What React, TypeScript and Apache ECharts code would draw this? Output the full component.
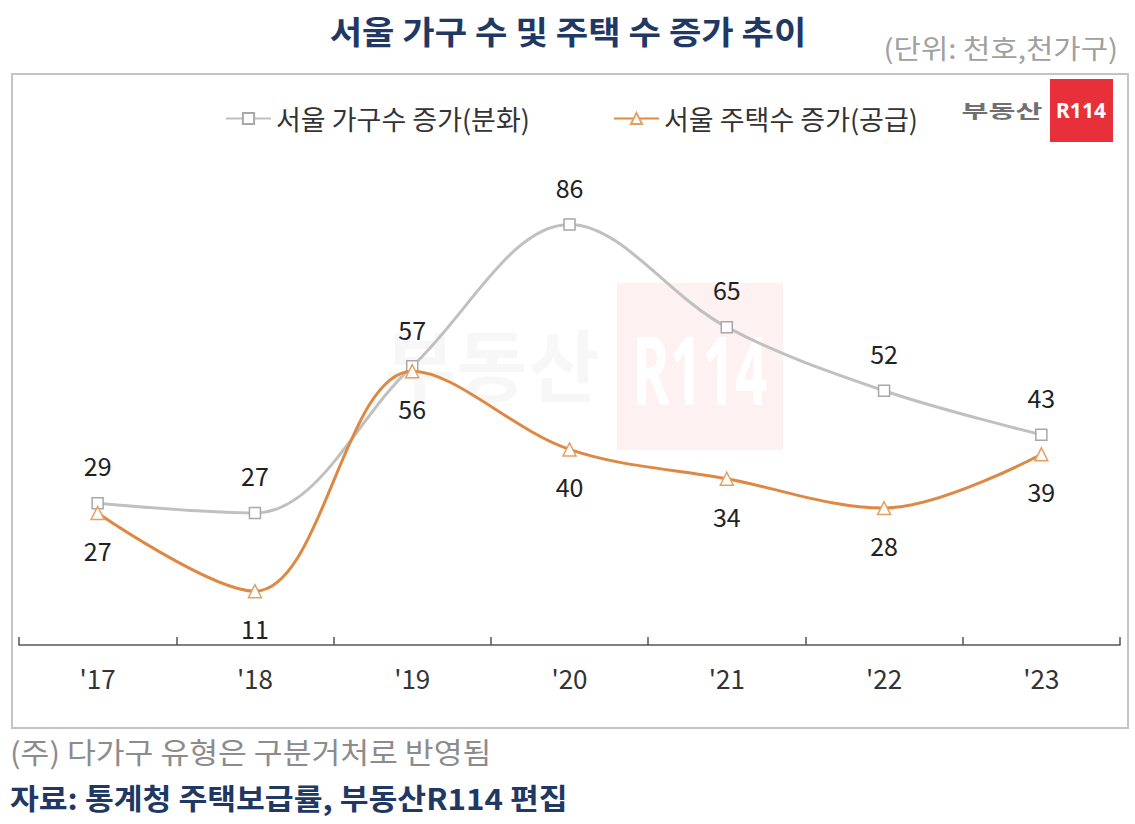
import React, { useEffect, useRef } from "react";
import * as echarts from "echarts";

const years = ["'17", "'18", "'19", "'20", "'21", "'22", "'23"];
const householdGrowth = [29, 27, 57, 86, 65, 52, 43];
const housingGrowth = [27, 11, 56, 40, 34, 28, 39];
const seriesNames = ["서울 가구수 증가(분화)", "서울 주택수 증가(공급)"];
const titleText = "서울 가구 수 및 주택 수 증가 추이";
const unitText = "(단위: 천호,천가구)";
const noteText = "(주) 다가구 유형은 구분거처로 반영됨";
const sourceText = "자료: 통계청 주택보급률, 부동산R114 편집";

const FONT = "'Noto Sans CJK KR', 'Noto Sans', sans-serif";

export default function App() {
  const ref = useRef<HTMLDivElement>(null);
  useEffect(() => {
    if (!ref.current) return;
    const chart = echarts.init(ref.current, null, { renderer: "svg" });
    chart.setOption({
      animation: false,
      backgroundColor: "#ffffff",
      textStyle: { fontFamily: FONT },
      grid: { left: 19, right: 15, top: 156, bottom: 179, containLabel: false },
      legend: [
        {
          data: [seriesNames[0]],
          left: 220,
          top: 100,
          itemWidth: 45,
          itemHeight: 14,
          itemGap: 6,
          textStyle: { fontSize: 27, color: "#333", fontFamily: FONT },
        },
        {
          data: [seriesNames[1]],
          left: 608,
          top: 100,
          itemWidth: 45,
          itemHeight: 14,
          itemGap: 6,
          textStyle: { fontSize: 27, color: "#333", fontFamily: FONT },
        },
      ],
      xAxis: {
        type: "category",
        data: years,
        boundaryGap: true,
        axisLine: { show: true, lineStyle: { color: "#555", width: 1.5 } },
        axisTick: { show: true, inside: true, length: 8, lineStyle: { color: "#555", width: 1.5 } },
        axisLabel: { fontSize: 26, color: "#333", margin: 19, fontFamily: FONT },
        splitLine: { show: false },
      },
      yAxis: {
        type: "value",
        min: 0,
        max: 100,
        show: false,
        splitLine: { show: false },
      },
      graphic: [
        {
          type: "rect",
          z: -10,
          shape: { x: 12, y: 74, width: 1116, height: 654 },
          style: { fill: "#ffffff", stroke: "#c4c4c4", lineWidth: 2 },
        },
        {
          type: "rect",
          z: -5,
          shape: { x: 617, y: 283, width: 166, height: 167 },
          style: { fill: "rgba(235,50,50,0.07)" },
        },
        {
          type: "text",
          z: -4,
          x: 700,
          y: 368,
          scaleX: 0.6,
          style: {
            text: "R114",
            fontSize: 95,
            fontWeight: "bold",
            fontFamily: "'Noto Sans', sans-serif",
            fill: "rgba(255,255,255,0.95)",
            textAlign: "center",
            textVerticalAlign: "middle",
          },
        },
        {
          type: "text",
          z: -4,
          x: 492,
          y: 362,
          style: {
            text: "부동산",
            fontSize: 78,
            fontWeight: "bold",
            fontFamily: FONT,
            fill: "rgba(0,0,0,0.03)",
            textAlign: "center",
            textVerticalAlign: "middle",
          },
        },
        {
          type: "text",
          x: 568,
          y: 30,
          scaleX: 1.1,
          style: {
            text: titleText,
            fontSize: 32,
            fontWeight: "bold",
            fontFamily: FONT,
            fill: "#1f3864",
            textAlign: "center",
            textVerticalAlign: "middle",
          },
        },
        {
          type: "text",
          x: 1118,
          y: 47,
          scaleX: 1.1,
          style: {
            text: unitText,
            fontSize: 27,
            fontFamily: FONT,
            fill: "#a0a0a0",
            textAlign: "right",
            textVerticalAlign: "middle",
          },
        },
        {
          type: "text",
          x: 1002,
          y: 110,
          scaleX: 1.22,
          scaleY: 0.78,
          style: {
            text: "부동산",
            fontSize: 24,
            fontWeight: "bold",
            fontFamily: FONT,
            fill: "#707070",
            textAlign: "center",
            textVerticalAlign: "middle",
          },
        },
        {
          type: "rect",
          shape: { x: 1050, y: 79, width: 63, height: 63 },
          style: { fill: "#e8303a" },
        },
        {
          type: "text",
          x: 1081,
          y: 110,
          style: {
            text: "R114",
            fontSize: 21,
            fontWeight: "bold",
            fontFamily: "'Noto Sans', sans-serif",
            fill: "#ffffff",
            textAlign: "center",
            textVerticalAlign: "middle",
          },
        },
        {
          type: "text",
          x: 10,
          y: 752,
          scaleX: 1.08,
          style: {
            text: noteText,
            fontSize: 29,
            fontFamily: FONT,
            fill: "#8c8c8c",
            textAlign: "left",
            textVerticalAlign: "middle",
          },
        },
        {
          type: "text",
          x: 10,
          y: 798,
          scaleX: 1.08,
          style: {
            text: sourceText,
            fontSize: 29,
            fontWeight: "bold",
            fontFamily: FONT,
            fill: "#1f3864",
            textAlign: "left",
            textVerticalAlign: "middle",
          },
        },
      ],
      series: [
        {
          name: seriesNames[0],
          type: "line",
          data: householdGrowth,
          smooth: 0.35,
          smoothConstraint: false,
          symbol: "rect",
          symbolSize: 11,
          showAllSymbol: true,
          lineStyle: { color: "#c0c0c0", width: 3 },
          itemStyle: { color: "#ffffff", borderColor: "#a8a8a8", borderWidth: 1.5 },
          label: {
            show: true,
            position: "top",
            distance: 19,
            fontSize: 25,
            color: "#222",
            fontFamily: FONT,
          },
          z: 2,
        },
        {
          name: seriesNames[1],
          type: "line",
          data: housingGrowth,
          smooth: 0.35,
          smoothConstraint: false,
          symbol: "triangle",
          symbolSize: 13,
          showAllSymbol: true,
          lineStyle: { color: "#de8843", width: 3 },
          itemStyle: { color: "#ffffff", borderColor: "#e3a065", borderWidth: 1.5 },
          label: {
            show: true,
            position: "bottom",
            distance: 17,
            fontSize: 25,
            color: "#222",
            fontFamily: FONT,
          },
          z: 3,
        },
      ],
    });
    return () => chart.dispose();
  }, []);
  return (
    <div
      ref={ref}
      style={{ position: "absolute", left: 0, top: 0, width: 1135, height: 824, background: "#fff" }}
    />
  );
}
